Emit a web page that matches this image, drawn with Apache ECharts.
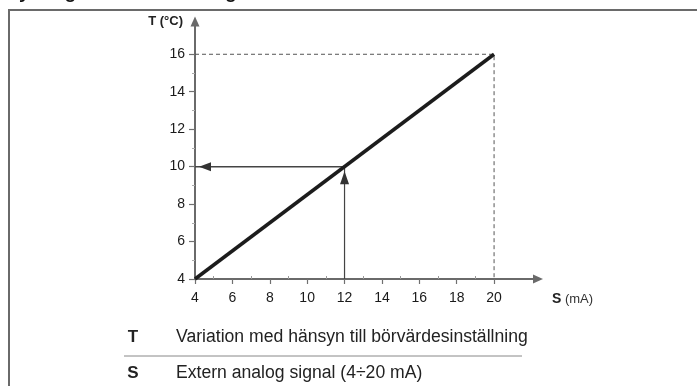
<!DOCTYPE html>
<html>
<head>
<meta charset="utf-8">
<script src="https://cdn.jsdelivr.net/npm/echarts@6/dist/echarts.min.js"></script>
<style>
html,body{margin:0;padding:0;background:#fff;}
#chart{width:697px;height:386px;}
</style>
</head>
<body>
<div id="chart"></div>
<script>
// ---- data ----
var xTicks = [4, 6, 8, 10, 12, 14, 16, 18, 20];
var xMinorTicks = [5, 7, 9, 11, 13, 15, 17, 19];
var yTicks = [4, 6, 8, 10, 12, 14, 16];
var yMinorTicks = [5, 7, 9, 11, 13, 15];
var mainLine = [[4, 4], [20, 16]];          // S (mA) -> T (°C)
var dashedGuide = [[4, 16], [20, 16], [20, 4]];
var exampleS = 12;
var exampleT = 10;
var sMin = 4, sMax = 20;
var tMin = 4, tMax = 16;
var legendT = 'Variation med hänsyn till börvärdesinställning';
var legendS = 'Extern analog signal (4÷20 mA)';
var titleText = 'Styrdiagram för extern signal';

var font = '"Liberation Sans", Arial, sans-serif';
var chart = echarts.init(document.getElementById('chart'));

var baseX = {
  type: 'value', min: 4, max: 22.35, gridIndex: 0, position: 'bottom',
  splitLine: { show: false }
};
var baseY = {
  type: 'value', min: 4, max: 17.75, gridIndex: 0, position: 'left',
  splitLine: { show: false }
};

chart.setOption({
  animation: false,
  backgroundColor: '#fff',
  grid: { left: 195, top: 21.5, right: 159, bottom: 107, containLabel: false },
  xAxis: [
    Object.assign({}, baseX, {
      name: '{b|S} (mA)',
      nameLocation: 'end',
      nameGap: 14,
      nameTextStyle: {
        fontFamily: font, fontSize: 13, color: '#333',
        verticalAlign: 'middle', padding: [40, 0, 0, 0],
        rich: { b: { fontFamily: font, fontSize: 14, fontWeight: 'bold', color: '#222' } }
      },
      axisLine: { show: true, lineStyle: { color: '#6a6a6a', width: 2 }, symbol: ['none', 'triangle'], symbolSize: [9, 10] },
      axisTick: { show: true, customValues: xTicks, length: 5, inside: false, lineStyle: { color: '#707070', width: 1.2 } },
      axisLabel: { show: true, customValues: xTicks, margin: 12, fontFamily: font, fontSize: 14, color: '#1a1a1a' }
    }),
    Object.assign({}, baseX, {
      axisLine: { show: false },
      axisTick: { show: true, customValues: xMinorTicks, length: 3, inside: true, lineStyle: { color: '#999', width: 1 } },
      axisLabel: { show: false }
    })
  ],
  yAxis: [
    Object.assign({}, baseY, {
      name: 'T (°C)',
      nameLocation: 'end',
      nameGap: 0,
      nameTextStyle: {
        fontFamily: font, fontSize: 13, fontWeight: 'bold', color: '#222',
        align: 'right', verticalAlign: 'middle', padding: [0, 12, 0, 0]
      },
      axisLine: { show: true, lineStyle: { color: '#6a6a6a', width: 2 }, symbol: ['none', 'triangle'], symbolSize: [9, 10] },
      axisTick: { show: true, customValues: yTicks, length: 6, inside: false, lineStyle: { color: '#707070', width: 1.2 } },
      axisLabel: { show: true, customValues: yTicks, margin: 10, fontFamily: font, fontSize: 14, color: '#1a1a1a' }
    }),
    Object.assign({}, baseY, {
      axisLine: { show: false },
      axisTick: { show: true, customValues: yMinorTicks, length: 3, inside: false, lineStyle: { color: '#aaa', width: 1 } },
      axisLabel: { show: false }
    })
  ],
  series: [
    {
      type: 'line', data: dashedGuide, symbol: 'none', silent: true,
      lineStyle: { color: '#555', width: 1, type: [4, 3] }, z: 2
    },
    {
      type: 'line',
      data: [
        { value: [exampleS, tMin], symbol: 'none' },
        { value: [exampleS, exampleT], symbol: 'triangle', symbolSize: [9, 13], symbolOffset: [0, 11] }
      ],
      showSymbol: true, silent: true,
      itemStyle: { color: '#333' },
      lineStyle: { color: '#444', width: 1.2 }, z: 3
    },
    {
      type: 'line',
      data: [
        { value: [exampleS, exampleT], symbol: 'none' },
        { value: [sMin, exampleT], symbol: 'triangle', symbolSize: [9, 12], symbolRotate: 90, symbolOffset: [10, 0] }
      ],
      showSymbol: true, silent: true,
      itemStyle: { color: '#333' },
      lineStyle: { color: '#444', width: 1.5 }, z: 3
    },
    {
      type: 'line', data: mainLine, symbol: 'none', silent: true,
      lineStyle: { color: '#1c1c1c', width: 3.5 }, z: 4
    }
  ],
  graphic: [
    { type: 'text', left: 0, top: -17, silent: true,
      style: { text: titleText, font: 'bold 19px ' + font, fill: '#111' } },
    { type: 'polyline', silent: true,
      shape: { points: [[9, 386], [9, 10], [697, 10]] },
      style: { stroke: '#6a6a6a', lineWidth: 2, fill: null } },
    { type: 'text', x: 133, y: 337, silent: true,
      style: { text: 'T', font: 'bold 17px ' + font, fill: '#222', align: 'center', verticalAlign: 'middle' } },
    { type: 'text', x: 176, y: 337, silent: true,
      style: { text: legendT, font: '17.6px ' + font, fill: '#222', align: 'left', verticalAlign: 'middle' } },
    { type: 'line', silent: true,
      shape: { x1: 124, y1: 356, x2: 522, y2: 356 },
      style: { stroke: '#888', lineWidth: 1 } },
    { type: 'text', x: 133, y: 373, silent: true,
      style: { text: 'S', font: 'bold 17px ' + font, fill: '#222', align: 'center', verticalAlign: 'middle' } },
    { type: 'text', x: 176, y: 373, silent: true,
      style: { text: legendS, font: '17.6px ' + font, fill: '#222', align: 'left', verticalAlign: 'middle' } }
  ]
});
</script>
</body>
</html>
